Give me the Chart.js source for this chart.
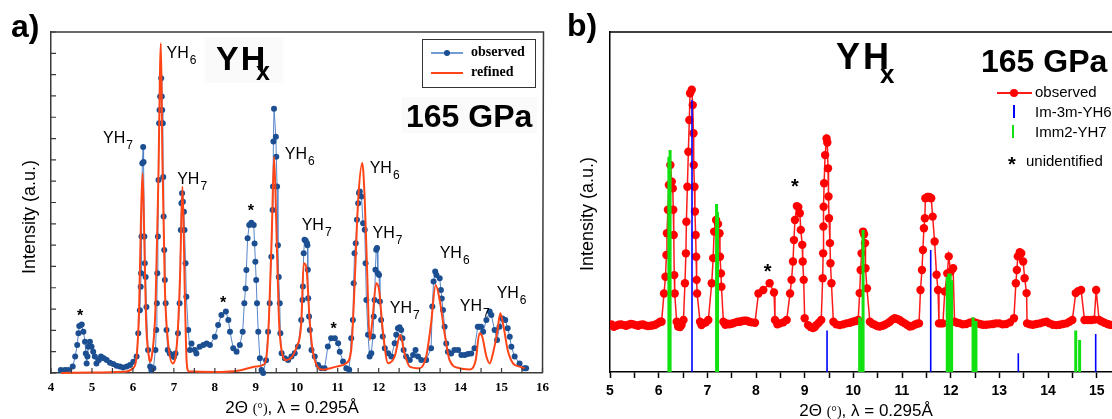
<!DOCTYPE html>
<html>
<head>
<meta charset="utf-8">
<script src="https://cdn.jsdelivr.net/npm/chart.js@4.4.0/dist/chart.umd.min.js"></script>
<style>
html, body { margin: 0; padding: 0; background: #fff; width: 1112px; height: 419px; overflow: hidden; }
body { position: relative; font-family: "Liberation Sans", Arial, sans-serif; color: #000; }
#wrapA { position: absolute; left: 0; top: 0; }
#wrapB { position: absolute; left: 556px; top: 0; }
.t { position: absolute; white-space: nowrap; line-height: 1; }
.bold { font-weight: bold; }
.bg { position: absolute; background: #fafafa; }
.legA { position: absolute; left: 422px; top: 39px; width: 112px; height: 47px; border: 1.5px solid #333; background: #fff; }
.seg { position: absolute; height: 2px; }
.dot { position: absolute; border-radius: 50%; }
.vline { position: absolute; }
.ytitle { position: absolute; font-size: 18px; line-height: 1; white-space: nowrap; transform: translate(-50%, -50%) rotate(-90deg); }
.xtitle { position: absolute; font-size: 17px; line-height: 1; white-space: nowrap; transform: translateX(-50%); }
.xtitle .deg { font-family: "Liberation Serif", serif; font-size: 14px; }
</style>
</head>
<body>
<div id="wrapA"><canvas id="chartA" width="556" height="419"></canvas></div>
<div id="wrapB"><canvas id="chartB" width="600" height="419"></canvas></div>

<!-- panel a overlays -->
<div class="t bold" style="left:11px;top:10px;font-size:32px;">a)</div>
<div class="bg" style="left:205px;top:37px;width:78px;height:46px;"></div>
<div class="t bold" style="left:216px;top:41px;font-size:34px;letter-spacing:2px;">YH</div>
<div class="t bold" style="left:256px;top:59px;font-size:25px;">x</div>
<div class="bg" style="left:402px;top:97px;width:135px;height:36px;"></div>
<div class="t bold" style="left:406px;top:100px;font-size:32px;">165 GPa</div>
<div class="legA"></div>
<div class="seg" style="left:431px;top:52px;width:32px;background:#6f9bd6;"></div>
<div class="dot" style="left:444px;top:50px;width:6px;height:6px;background:#1c4f91;"></div>
<div class="t bold" style="left:471px;top:45px;font-size:14px;font-family:'Liberation Serif',serif;">observed</div>
<div class="seg" style="left:431px;top:72px;width:32px;background:#ff4517;"></div>
<div class="t bold" style="left:471px;top:65px;font-size:14px;font-family:'Liberation Serif',serif;">refined</div>
<div class="ytitle" style="left:29px;top:217px;">Intensity (a.u.)</div>
<div class="xtitle" style="left:292px;top:399px;">2Θ <span class="deg">(°)</span>, λ = 0.295Å</div>

<!-- panel b overlays -->
<div class="t bold" style="left:567px;top:9px;font-size:32px;">b)</div>
<div class="t bold" style="left:836px;top:39px;font-size:36px;letter-spacing:3px;">YH</div>
<div class="t bold" style="left:880px;top:61px;font-size:26px;">x</div>
<div class="t bold" style="left:981px;top:45px;font-size:32px;">165 GPa</div>
<div class="seg" style="left:997px;top:92px;width:35px;height:1.5px;background:#ff1a1a;"></div>
<div class="dot" style="left:1010px;top:89px;width:8px;height:8px;background:#ff0000;"></div>
<div class="t" style="left:1035px;top:84px;font-size:15px;">observed</div>
<div class="vline" style="left:1013px;top:105px;width:1.5px;height:13px;background:#0000ff;"></div>
<div class="t" style="left:1035px;top:104px;font-size:15px;">Im-3m-YH6</div>
<div class="vline" style="left:1012px;top:125px;width:2px;height:13px;background:#11e011;"></div>
<div class="t" style="left:1035px;top:124px;font-size:15px;">Imm2-YH7</div>
<div class="t bold" style="left:1008px;top:154px;font-size:20px;">*</div>
<div class="t" style="left:1026px;top:153px;font-size:15px;">unidentified</div>
<div class="ytitle" style="left:587px;top:214px;">Intensity (a.u.)</div>
<div class="xtitle" style="left:866px;top:402px;">2Θ <span class="deg">(°)</span>, λ = 0.295Å</div>

<script>
// ---- panel a: observed pattern (2theta, intensity a.u.)
const obsA_x = [4.24,4.34,4.42,4.53,4.59,4.64,4.67,4.69,4.75,4.79,4.83,4.85,4.87,4.89,4.91,4.95,4.99,5.03,5.07,5.11,
  5.17,5.22,5.29,5.36,5.44,5.52,5.60,5.68,5.76,5.85,5.93,6.01,6.09,6.13,6.17,6.19,6.20,6.21,6.23,6.25,
  6.26,6.28,6.29,6.31,6.33,6.37,6.42,6.45,6.50,6.55,6.57,6.585,6.595,6.61,6.625,6.64,6.65,6.665,6.69,6.705,
  6.715,6.73,6.74,6.75,6.765,6.78,6.80,6.82,6.85,6.90,6.95,7.00,7.04,7.10,7.14,7.17,7.185,7.20,7.22,7.245,
  7.26,7.285,7.305,7.35,7.39,7.43,7.51,7.55,7.63,7.72,7.80,7.88,8.00,8.08,8.16,8.27,8.33,8.37,8.45,8.53,
  8.61,8.68,8.72,8.75,8.77,8.80,8.84,8.89,8.95,8.97,8.99,9.01,9.03,9.06,9.10,9.14,9.18,9.25,9.30,9.34,
  9.38,9.41,9.42,9.43,9.445,9.49,9.50,9.52,9.54,9.56,9.585,9.60,9.63,9.71,9.79,9.87,9.95,10.03,10.11,10.14,
  10.15,10.17,10.19,10.22,10.25,10.26,10.27,10.28,10.30,10.32,10.36,10.44,10.52,10.60,10.68,10.76,10.84,10.93,11.01,11.05,
  11.13,11.21,11.28,11.33,11.37,11.39,11.41,11.44,11.47,11.50,11.52,11.54,11.58,11.62,11.66,11.68,11.70,11.74,11.78,11.82,
  11.86,11.88,11.90,11.92,11.94,11.96,11.98,12.01,12.03,12.06,12.10,12.15,12.23,12.31,12.39,12.43,12.47,12.51,12.55,12.58,
  12.61,12.67,12.76,12.84,12.90,12.96,13.04,13.16,13.28,13.31,13.34,13.38,13.41,13.49,13.52,13.54,13.57,13.61,13.65,13.69,
  13.77,13.85,13.94,14.02,14.10,14.18,14.26,14.34,14.42,14.46,14.50,14.55,14.63,14.71,14.75,14.83,14.89,14.95,15.02,15.09,
  15.15,15.20,15.24,15.32,15.44,15.56,15.60];
const obsA_y = [0.14,0.14,0.14,0.30,0.77,1.31,1.86,2.20,2.28,1.94,1.47,0.92,0.45,0.77,1.23,1.47,1.23,1.00,0.77,0.45,
  0.61,0.77,0.69,0.61,0.48,0.42,0.34,0.30,0.26,0.30,0.38,0.53,0.77,1.86,2.95,4.05,4.68,6.40,9.84,10.60,
  9.90,6.40,5.15,4.50,3.10,1.08,0.30,0.14,0.22,1.08,2.02,3.27,4.68,6.40,9.06,11.72,12.34,12.97,13.83,12.97,
  12.34,11.72,9.20,7.34,5.77,4.36,3.27,2.02,1.08,0.92,0.85,0.75,0.92,1.86,3.27,6.71,7.96,8.43,8.04,7.57,
  6.71,5.15,3.58,2.02,1.08,1.39,1.08,0.92,1.23,1.31,1.39,1.31,1.70,2.25,2.72,2.88,2.49,1.94,1.16,1.00,
  1.31,1.94,3.27,3.97,4.83,6.32,6.95,7.05,6.95,6.08,5.22,4.36,3.27,1.94,0.69,0.14,0.00,0.60,1.94,3.27,
  5.46,7.65,8.75,10.86,12.40,11.09,10.15,8.75,6.00,4.50,3.27,1.87,0.93,0.69,0.61,0.77,0.93,1.24,2.49,3.43,
  4.06,5.62,6.25,6.20,6.09,6.00,4.84,3.51,2.65,2.02,1.08,0.77,0.38,0.22,0.22,1.24,1.63,1.63,1.40,1.00,
  0.54,0.22,0.15,1.63,2.49,4.21,5.62,6.09,7.19,7.97,8.44,8.52,8.28,7.03,6.72,5.15,3.43,1.79,0.77,0.93,
  1.71,2.65,3.43,4.84,5.78,5.86,4.68,4.60,3.35,2.49,1.71,1.16,0.93,0.77,1.40,1.79,2.10,2.15,2.02,1.63,
  1.08,0.77,0.61,0.85,1.08,0.77,0.61,0.61,1.16,3.12,4.29,4.76,4.60,4.44,3.89,3.50,2.96,2.17,1.39,1.00,
  0.92,1.08,1.08,0.84,0.84,0.89,0.92,1.16,2.17,2.17,2.17,1.94,2.49,2.88,2.72,2.02,1.55,2.17,2.56,2.49,
  2.10,1.70,1.23,0.77,0.45,0.22,0.22];

// ---- panel a: refined profile
const refA_x = [4.25,5.0,5.8,6.0,6.09,6.15,6.20,6.236,6.27,6.32,6.38,6.42,6.47,6.55,6.62,6.683,6.72,6.78,6.85,6.97,
  7.08,7.15,7.21,7.27,7.31,7.36,8.0,8.6,9.0,9.18,9.26,9.32,9.39,9.447,9.50,9.56,9.60,9.75,10.0,10.11,
  10.17,10.23,10.32,10.40,10.64,10.97,11.21,11.33,11.39,11.50,11.60,11.66,11.72,11.78,11.84,11.94,12.01,12.10,12.23,12.39,
  12.53,12.63,12.76,13.0,13.16,13.28,13.39,13.49,13.61,13.73,13.98,14.22,14.37,14.46,14.53,14.63,14.71,14.79,14.89,14.97,
  15.05,15.15,15.28,15.44,15.56];
const refA_y = [0.0,0.02,0.06,0.22,0.77,3.0,7.5,9.37,7.0,2.5,0.9,0.53,0.9,3.0,9.0,15.47,10.0,4.0,1.6,0.45,
  1.5,4.5,8.75,3.5,0.6,0.08,0.05,0.12,0.3,0.38,0.77,2.5,6.5,10.15,7.0,2.8,1.5,0.6,1.24,2.33,
  5.15,5.0,2.33,0.93,0.15,0.3,0.46,1.08,3.12,8.13,9.85,8.13,4.68,1.55,2.33,4.21,3.9,2.02,0.46,0.77,
  1.79,0.93,0.3,0.22,0.77,2.33,4.13,3.43,1.86,0.61,0.22,0.17,0.61,1.86,1.7,0.77,0.45,0.92,1.86,2.8,
  2.17,1.08,0.45,0.3,0.22];

// ---- panel b: observed pattern
const obsB_x = [5.03,5.08,5.13,5.18,5.23,5.28,5.33,5.38,5.43,5.48,5.53,5.58,5.63,5.68,5.73,5.78,5.83,5.88,5.93,5.98,
  6.03,6.06,6.11,6.14,6.16,6.17,6.19,6.21,6.24,6.27,6.29,6.30,6.31,6.32,6.33,6.37,6.40,6.44,6.47,6.51,
  6.54,6.56,6.57,6.59,6.61,6.63,6.645,6.68,6.70,6.715,6.72,6.735,6.745,6.76,6.77,6.78,6.79,6.85,6.88,6.92,
  6.97,7.02,7.09,7.12,7.14,7.18,7.22,7.25,7.26,7.28,7.29,7.33,7.37,7.40,7.45,7.49,7.53,7.58,7.63,7.67,
  7.72,7.76,7.81,7.86,7.91,7.98,8.05,8.15,8.28,8.37,8.39,8.44,8.49,8.56,8.63,8.70,8.73,8.76,8.78,8.80,
  8.84,8.87,8.90,8.92,8.95,8.96,8.98,9.00,9.07,9.12,9.17,9.21,9.24,9.29,9.34,9.37,9.38,9.385,9.39,9.40,
  9.42,9.45,9.465,9.48,9.49,9.50,9.52,9.53,9.55,9.59,9.65,9.72,9.79,9.86,9.93,9.99,10.05,10.10,10.13,10.15,
  10.17,10.20,10.22,10.24,10.25,10.28,10.34,10.39,10.44,10.49,10.54,10.60,10.65,10.70,10.75,10.80,10.85,10.90,10.95,11.00,
  11.06,11.11,11.16,11.21,11.26,11.31,11.35,11.38,11.41,11.43,11.45,11.47,11.48,11.52,11.55,11.57,11.60,11.63,11.67,11.71,
  11.74,11.76,11.80,11.84,11.88,11.93,11.96,12.00,12.05,12.08,12.13,12.19,12.25,12.32,12.39,12.46,12.53,12.60,12.66,12.73,
  12.80,12.87,12.93,13.00,13.07,13.14,13.22,13.30,13.34,13.36,13.38,13.42,13.45,13.49,13.52,13.56,13.57,13.63,13.69,13.76,
  13.83,13.90,13.97,14.03,14.10,14.17,14.24,14.31,14.38,14.44,14.50,14.57,14.62,14.68,14.75,14.82,14.89,14.95,14.99,15.05,
  15.10,15.16,15.22,15.27,15.33,15.40,15.47];
const obsB_y = [14.0,13.3,13.6,13.9,14.0,13.8,13.6,13.9,14.1,14.0,13.8,13.6,13.9,14.0,13.7,13.5,13.6,13.7,13.9,14.3,
  14.8,14.8,23.1,28.0,34.4,40.8,47.7,55.0,60.9,56.0,54.0,47.7,40.3,28.5,23.1,14.8,13.4,13.2,13.8,15.3,
  26.1,34.9,44.2,54.5,64.8,74.1,82.0,83.0,78.5,70.2,60.9,54.5,47.2,40.3,33.9,27.1,23.1,14.8,13.8,14.3,
  14.6,15.3,26.1,33.5,41.3,44.7,43.5,40.8,33.9,29.0,25.1,14.8,13.9,14.3,14.0,14.2,14.3,14.6,14.8,14.8,
  15.0,15.1,15.1,14.8,14.6,14.5,23.1,24.1,26.1,23.4,15.3,14.0,14.3,14.6,15.3,23.1,27.1,32.5,38.8,44.7,
  48.8,48.5,46.7,41.8,37.4,32.5,27.1,15.8,13.8,13.2,12.9,13.2,13.8,14.5,15.3,27.6,34.9,42.8,48.6,55.5,
  63.8,68.7,67.5,59.9,51.6,45.2,37.9,32.0,26.1,14.8,14.0,13.8,14.0,14.3,14.5,14.8,15.0,15.3,23.2,30.0,
  34.9,41.3,40.5,37.9,30.5,24.6,14.8,14.2,13.9,13.5,13.4,13.6,13.9,14.3,14.8,15.4,15.8,15.6,15.3,14.8,
  14.3,13.8,13.4,13.5,13.9,14.2,14.3,24.1,30.0,35.9,42.3,45.2,51.1,51.5,51.5,51.4,51.1,45.7,38.4,28.6,
  24.1,14.3,14.3,14.3,23.7,29.0,34.0,29.5,30.5,14.8,14.5,14.3,14.0,14.1,14.5,14.8,14.4,14.1,13.9,13.9,
  14.0,14.1,14.3,14.3,14.0,14.1,14.6,15.8,26.1,30.0,34.0,35.2,34.9,32.5,27.6,23.2,14.3,14.0,13.9,14.1,
  14.3,14.6,14.8,14.3,13.9,13.8,13.9,14.1,14.3,14.8,15.3,23.2,23.8,24.1,15.3,15.3,15.3,15.4,24.1,15.3,
  14.9,14.5,14.1,13.9,13.8,14.0,14.0];

// ---- panel b: reference reflections
const yh6Pos = [6.685, 9.46, 11.59, 13.39, 14.98];
const yh6Int = [80.0, 12.2, 35.9, 5.5, 11.2];
const yh7Pos = [6.21, 6.235, 7.19, 7.21, 10.13, 10.15, 10.20, 11.93, 11.96, 11.99, 12.02, 12.46, 12.49, 12.52, 14.57, 14.65];
const yh7Int = [63.3, 65.3, 49.4, 47.0, 16.0, 15.0, 41.8, 28.0, 29.0, 29.0, 27.0, 16.1, 15.0, 15.0, 12.2, 9.4];

// tick labels
const ticksA = [4, 5, 6, 7, 8, 9, 10, 11, 12, 13, 14, 15, 16];
const ticksB = [5, 6, 7, 8, 9, 10, 11, 12, 13, 14, 15];

const SANS = '"Liberation Sans", Arial, sans-serif';
const SERIF = '"Liberation Serif", "Times New Roman", serif';

const pts = (xs, ys) => xs.map((x, i) => ({ x: x, y: ys[i] }));

function sticks(pos, h) {
  const d = [];
  pos.forEach((p, i) => {
    d.push({ x: p, y: 0 }, { x: p, y: h[i] }, { x: p, y: null });
  });
  return d;
}

// frame + inward tick marks
const frame = {
  id: 'frame',
  afterDraw(chart, args, o) {
    const { ctx, chartArea: a } = chart;
    ctx.save();
    ctx.strokeStyle = o.color;
    ctx.lineWidth = o.width;
    ctx.beginPath();
    ctx.moveTo(a.left, a.top);
    ctx.lineTo(a.right + 1, a.top);
    if (o.right) ctx.lineTo(a.right, a.bottom);
    ctx.stroke();
    if (o.inner) {
      const sx = chart.scales.x, sy = chart.scales.y;
      ctx.lineWidth = 1.2;
      ctx.beginPath();
      sx.ticks.forEach(t => {
        const px = sx.getPixelForValue(t.value);
        ctx.moveTo(px, a.bottom);
        ctx.lineTo(px, a.bottom - 5);
      });
      sy.ticks.forEach(t => {
        const py = sy.getPixelForValue(t.value);
        ctx.moveTo(a.left, py);
        ctx.lineTo(a.left + 5, py);
      });
      ctx.stroke();
    }
    ctx.restore();
  }
};

// peak labels and asterisks, placed in data coordinates
const notes = {
  id: 'notes',
  afterDatasetsDraw(chart, args, o) {
    const { ctx } = chart;
    const sx = chart.scales.x, sy = chart.scales.y;
    ctx.save();
    ctx.fillStyle = '#000';
    ctx.textAlign = 'left';
    ctx.textBaseline = 'alphabetic';
    (o.items || []).forEach(n => {
      const px = sx.getPixelForValue(n.x), py = sy.getPixelForValue(n.y);
      ctx.font = o.font;
      ctx.fillText(n.t, px, py);
      const w = ctx.measureText(n.t).width;
      ctx.font = o.subFont;
      ctx.fillText(n.s, px + w + 1, py + 6);
    });
    ctx.textAlign = 'center';
    ctx.font = o.starFont;
    (o.stars || []).forEach(s => {
      const px = sx.getPixelForValue(s.x), py = sy.getPixelForValue(s.y);
      ctx.fillText('*', px, py + o.starSize * 0.57);
    });
    ctx.restore();
  }
};

new Chart(document.getElementById('chartA'), {
  type: 'line',
  data: {
    datasets: [
      {
        label: 'refined',
        data: pts(refA_x, refA_y),
        borderColor: '#ff4517',
        borderWidth: 2,
        pointRadius: 0,
        cubicInterpolationMode: 'monotone',
        clip: false
      },
      {
        label: 'observed',
        data: pts(obsA_x, obsA_y),
        borderColor: '#5585c8',
        borderWidth: 1,
        pointRadius: 3,
        pointBackgroundColor: '#1c4f91',
        pointBorderWidth: 0,
        tension: 0,
        clip: false
      }
    ]
  },
  options: {
    responsive: false,
    animation: false,
    layout: { padding: { top: 32, right: 13, left: 0, bottom: 0 } },
    plugins: {
      legend: { display: false },
      tooltip: { enabled: false },
      frame: { color: '#3a3a3a', width: 1.5, right: true, inner: true },
      notes: {
        font: '16px ' + SANS,
        subFont: '12px ' + SANS,
        starFont: 'bold 16px ' + SANS,
        starSize: 16,
        items: [
          { t: 'YH', s: '7', x: 5.27, y: 10.8 },
          { t: 'YH', s: '6', x: 6.82, y: 14.77 },
          { t: 'YH', s: '7', x: 7.08, y: 8.85 },
          { t: 'YH', s: '6', x: 9.71, y: 10.05 },
          { t: 'YH', s: '7', x: 10.12, y: 6.71 },
          { t: 'YH', s: '6', x: 11.78, y: 9.39 },
          { t: 'YH', s: '7', x: 11.85, y: 6.34 },
          { t: 'YH', s: '7', x: 12.27, y: 2.82 },
          { t: 'YH', s: '6', x: 13.49, y: 5.4 },
          { t: 'YH', s: '7', x: 13.98, y: 2.91 },
          { t: 'YH', s: '6', x: 14.88, y: 3.52 }
        ],
        stars: [
          { x: 4.71, y: 2.88 }, { x: 8.2, y: 3.46 }, { x: 8.88, y: 7.78 }, { x: 10.9, y: 2.25 }
        ]
      }
    },
    scales: {
      x: {
        type: 'linear',
        min: 4,
        max: 16,
        afterFit: s => { s.height = 46; },
        ticks: {
          stepSize: 0.5,
          autoSkip: false,
          maxRotation: 0,
          padding: 7,
          color: '#000',
          font: { family: SERIF, size: 13, weight: 'bold' },
          callback: v => ticksA.includes(v) ? String(v) : ''
        },
        grid: { display: true, drawOnChartArea: false, drawTicks: false },
        border: { display: true, color: '#3a3a3a', width: 1.5 }
      },
      y: {
        type: 'linear',
        min: 0,
        max: 16,
        afterFit: s => { s.width = 51; },
        ticks: { display: false, stepSize: 1 },
        grid: { display: true, drawOnChartArea: false, drawTicks: false },
        border: { display: true, color: '#3a3a3a', width: 1.5 }
      }
    }
  },
  plugins: [frame, notes]
});

new Chart(document.getElementById('chartB'), {
  type: 'line',
  data: {
    datasets: [
      {
        label: 'Im-3m-YH6',
        data: sticks(yh6Pos, yh6Int),
        borderColor: '#0000ff',
        borderWidth: 1.6,
        pointRadius: 0,
        spanGaps: false
      },
      {
        label: 'Imm2-YH7',
        data: sticks(yh7Pos, yh7Int),
        borderColor: '#11e011',
        borderWidth: 3,
        pointRadius: 0,
        spanGaps: false
      },
      {
        label: 'observed',
        data: pts(obsB_x, obsB_y),
        borderColor: '#ff1a1a',
        borderWidth: 1.5,
        pointRadius: 4.2,
        pointBackgroundColor: '#ff0000',
        pointBorderWidth: 0,
        tension: 0
      }
    ]
  },
  options: {
    responsive: false,
    animation: false,
    layout: { padding: { top: 32, right: 35, left: 0, bottom: 0 } },
    plugins: {
      legend: { display: false },
      tooltip: { enabled: false },
      frame: { color: '#000', width: 1.5, right: false, inner: false },
      notes: {
        font: '16px ' + SANS,
        subFont: '12px ' + SANS,
        starFont: 'bold 20px ' + SANS,
        starSize: 20,
        items: [],
        stars: [{ x: 8.24, y: 30.9 }, { x: 8.80, y: 55.9 }]
      }
    },
    scales: {
      x: {
        type: 'linear',
        min: 5,
        max: 15.5,
        afterFit: s => { s.height = 47; },
        ticks: {
          stepSize: 0.5,
          autoSkip: false,
          maxRotation: 0,
          padding: 5,
          color: '#000',
          font: { family: SANS, size: 14, weight: 'bold' },
          callback: v => ticksB.includes(v) ? String(v) : ''
        },
        grid: { display: true, drawOnChartArea: false, drawTicks: true, tickLength: 6, color: '#000', tickWidth: 1.5 },
        border: { display: true, color: '#000', width: 1.5 }
      },
      y: {
        type: 'linear',
        min: 0,
        max: 100,
        afterFit: s => { s.width = 54; },
        ticks: { display: false },
        grid: { display: true, drawOnChartArea: false, drawTicks: false },
        border: { display: true, color: '#000', width: 1.5 }
      }
    }
  },
  plugins: [frame, notes]
});
</script>
</body>
</html>
